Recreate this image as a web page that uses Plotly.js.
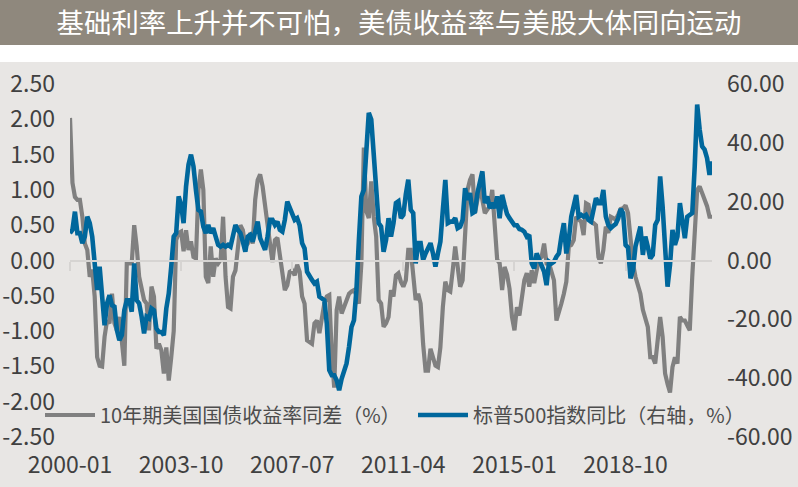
<!DOCTYPE html>
<html>
<head>
<meta charset="utf-8">
<script src="https://cdn.plot.ly/plotly-3.0.1.min.js"></script>
<style>
html,body{margin:0;padding:0;background:#fff;}
#chart{width:798px;height:487px;background:linear-gradient(to bottom,#8f887d 0px,#8f887d 45px,#ffffff 45px,#ffffff 62px,#e8e6e4 62px,#e8e6e4 487px);}
</style>
</head>
<body>
<div id="chart"></div>
<script>
// Month categories 2000-01 .. 2021-09
const startYear = 2000, monthCount = 261;
const months = [];
for (let i = 0; i < monthCount; i++) {
  const y = startYear + Math.floor(i / 12), m = (i % 12) + 1;
  months.push(y + '-' + (m < 10 ? '0' + m : m));
}

// 10年期美国国债收益率同差（%）
const ust10yYoY = [
  2.02, 1.1, 0.9, 0.86, 0.86, 0.62, 0.24, 0.15, -0.23, -0.13,
  -0.51, -1.37, -1.49, -1.5, -1.08, -0.85, -0.89, -0.47, -0.89, -0.99,
  -0.8, -1.18, -1.49, -0.04, -0.04, -0.04, 0.5, 0.2, -0.23, -0.42,
  -0.56, -0.61, -0.99, -0.37, -0.51, -1.25, -1.18, -1.27, -1.6, -1.23,
  -1.7, -1.37, -1.0, 0.29, 0.39, 0.41, 0.13, 0.43, 0.15, 0.27,
  0.05, 0.03, 1.0, 1.29, 1.0, -0.23, -0.32, 0.2, -0.23, 0.03,
  -0.04, 0.01, 0.62, -0.23, -0.66, -0.68, -0.23, -0.14, 0.2, 0.5,
  0.43, 0.2, 0.24, 0.39, 0.24, 0.86, 1.14, 1.22, 1.05, 0.74,
  0.53, 0.24, -0.02, 0.29, 0.32, 0.1, -0.18, -0.42, -0.35, -0.16,
  -0.14, -0.21, -0.06, -0.16, -0.51, -0.61, -1.13, -1.15, -1.18, -0.89,
  -0.85, -1.03, -0.8, -0.61, -0.51, -0.49, -1.32, -1.8, -0.7, -0.51,
  -0.75, -0.66, -0.59, -0.47, -0.44, -0.42, -0.49, -0.61, -0.04, 1.6,
  0.7, 0.6, 1.12, 0.62, 0.34, -0.56, -0.61, -0.94, -0.89, -0.8,
  -0.42, -0.51, -0.21, -0.18, -0.3, -0.37, -0.28, 0.15, 0.15, -0.23,
  -0.56, -0.47, -0.61, -1.18, -1.56, -1.56, -1.25, -1.37, -1.49, -1.51,
  -1.23, -0.66, -0.3, -0.42, -0.44, -0.14, 0.2, -0.09, -0.37, -0.28,
  0.53, 1.0, 1.14, 1.22, 0.67, 0.86, 1.05, 0.86, 0.67, 0.72,
  0.77, 1.0, 0.53, 0.01, -0.04, -0.42, -0.09, -0.2, -0.4, -0.8,
  -0.99, -0.66, -0.78, -0.51, -0.28, -0.18, -0.37, -0.14, -0.32, -0.14,
  0.03, 0.05, 0.24, -0.04, -0.04, -0.16, -0.28, -0.85, -0.75, -0.61,
  -0.47, -0.3, 0.2, 0.22, 0.29, 0.62, 0.58, 0.55, 0.36, 0.81,
  0.79, 0.55, 0.53, 0.5, 0.05, -0.04, 0.15, 0.48, 0.39, 0.62,
  0.6, 0.58, 0.65, 0.73, 0.74, 0.78, 0.67, 0.3, -0.04, -0.23,
  -0.37, -0.47, -0.7, -0.85, -0.94, -1.37, -1.37, -1.46, -1.18, -0.8,
  -1.08, -1.6, -1.75, -1.87, -1.51, -1.37, -1.46, -0.8, -0.85, -0.85,
  -0.92, -0.99, -0.23, 0.39, 1.0, 1.05, 0.95, 0.86, 0.77, 0.62,
  0.62
];

// 标普500指数同比（右轴，%）
const spxYoY = [
  9.3, 10.4, 16.6, 9.3, 9.3, 5.9, 8.1, 14.9, 12.7, 8.1,
  -1, -10, -2.1, -11.2, -22, -14.6, -11.8, -15.2, -15.7, -23.7,
  -27.1, -25.4, -16.9, -13.5, -13.5, -17.4, -1, -13.5, -14.6, -19.1,
  -24.8, -19.1, -19.7, -16.3, -16.9, -23.1, -24.3, -24.3, -25.4, -16.3,
  -11.2, -2.1, 8.1, 9.3, 21.8, 18.9, 12.7, 25.2, 32.6, 36,
  32, 24, 17.2, 16.6, 11.5, 9.3, 12.1, 9.3, 11, 8.1,
  5.3, 4.7, 5.3, 4.7, 5.3, 4.7, 8.1, 12.1, 10.4, 9.3,
  6.4, 3, 8.1, 8.7, 6.4, 9.3, 13.2, 7.6, 5.9, 3.6,
  8.1, 13.8, 13.8, 12.1, 13.2, 10.4, 9.8, 13.8, 20, 17.8,
  15, 13.8, 14.4, 12, 5.9, 4.1, -3.8, -5.5, -6.6, -7.8,
  -7.2, -12.3, -12.9, -13.5, -21.4, -37.3, -39, -39, -40.7, -44.1,
  -40.2, -37.9, -35, -29.4, -22.6, -20.3, -10.1, 7, 21.8, 24,
  38.8, 50.2, 47.9, 36.5, 21.8, 12.7, 11.5, 3, 7, 14.4,
  8.1, 12.7, 19.5, 20.1, 14.4, 15.5, 22.5, 27.5, 17.2, 16.1,
  -1, 5.9, 5.9, 0.2, 2.4, 4.1, 5.9, 2.4, -2.1, 2.4,
  6.4, 17.2, 27.4, 12.7, 13.2, 13.2, 14.4, 11, 11.5, 13.8,
  24.6, 20.6, 22.9, 16.1, 16.6, 22.9, 26.3, 30.3, 19.5, 21.8,
  17.8, 19.5, 17.8, 21.8, 14.4, 22.3, 18.9, 15.8, 14.4, 13,
  12, 12, 10.7, 10.4, 9.8, 8.1, 8.7, -1, -2.7, 2.4,
  0.2, -1, -3.8, -8.4, -0.4, -1, -0.4, 1.3, 2.4, 8.1,
  12.7, 2.4, 7, 14.9, 19.5, 22.3, 14.9, 15.5, 14.9, 15.5,
  13.8, 13.2, 17.2, 21.2, 19.5, 19.5, 24, 14.9, 12.1, 11,
  11.8, 12.4, 14.3, 17.5, 16.1, 5.3, 4.4, -6.1, -3.3, 4.7,
  8.1, 11.5, 1.9, 8.1, 4.7, 0.7, 1.9, 12.1, 13.8, 28.6,
  18.3, 5.9, -8.9, -1.5, 10.4, 5.3, 8.1, 19.5, 13.2, 7.6,
  14.9, 15.5, 16.1, 32, 53, 44.5, 38.8, 37.7, 34.8, 29.1,
  33.7
];

const xTickLabels = ['2000-01', '2003-10', '2007-07', '2011-04', '2015-01', '2018-10'];
const leftTicks = [-2.5, -2, -1.5, -1, -0.5, 0, 0.5, 1, 1.5, 2, 2.5];
const leftTickText = ['-2.50', '-2.00', '-1.50', '-1.00', '-0.50', '0.00', '0.50', '1.00', '1.50', '2.00', '2.50'];
const rightTicks = [-60, -40, -20, 0, 20, 40, 60];
const rightTickText = ['-60.00', '-40.00', '-20.00', '0.00', '20.00', '40.00', '60.00'];

const FONT = '"Noto Sans CJK SC", "Noto Sans", sans-serif';
const TICKCOL = '#404040';
const AXISLINE = '#d6d4d2';

const traces = [
  {
    x: months, y: ust10yYoY, type: 'scatter', mode: 'lines',
    name: '10年期美国国债收益率同差（%）',
    line: {color: '#808080', width: 4.2},
    xaxis: 'x', yaxis: 'y', legend: 'legend', hoverinfo: 'skip'
  },
  {
    x: months, y: spxYoY, type: 'scatter', mode: 'lines',
    name: '标普500指数同比（右轴，%）',
    line: {color: '#00679c', width: 4.6},
    xaxis: 'x2', yaxis: 'y2', legend: 'legend2', hoverinfo: 'skip'
  }
];

const layout = {
  width: 798, height: 487,
  paper_bgcolor: 'rgba(0,0,0,0)', plot_bgcolor: 'rgba(0,0,0,0)',
  margin: {l: 70, r: 86, t: 84, b: 50, pad: 0},
  font: {family: FONT, color: TICKCOL},
  title: {
    text: '基础利率上升并不可怕，美债收益率与美股大体同向运动',
    font: {family: FONT, size: 27.4, color: '#ffffff'},
    x: 0.5, xanchor: 'center', xref: 'container',
    y: 1 - 23 / 487, yanchor: 'middle', yref: 'container'
  },
  // axis line drawn at the zero level, with short ticks below it
  xaxis: {
    type: 'category', range: [0, 260], anchor: 'free', position: 0.5, side: 'bottom',
    showline: true, linecolor: AXISLINE, linewidth: 2,
    ticks: 'outside', ticklen: 9, tickwidth: 2, tickcolor: AXISLINE,
    tickmode: 'array', tickvals: xTickLabels, showticklabels: false,
    showgrid: false, zeroline: false
  },
  // tick labels at the bottom
  xaxis2: {
    type: 'category', range: [0, 260], overlaying: 'x', anchor: 'y2', side: 'bottom',
    tickmode: 'array', tickvals: xTickLabels, ticktext: xTickLabels,
    showgrid: false, zeroline: false, showline: false, ticks: '',
    ticklabelstandoff: 12,
    tickfont: {family: FONT, size: 23, color: TICKCOL}
  },
  yaxis: {
    range: [-2.5, 2.5], anchor: 'x', tickmode: 'array', tickvals: leftTicks, ticktext: leftTickText,
    showgrid: false, zeroline: false, showline: false, ticks: '',
    ticklabelstandoff: 14,
    tickfont: {family: FONT, size: 23, color: TICKCOL}
  },
  yaxis2: {
    range: [-60, 60], overlaying: 'y', side: 'right', anchor: 'x2',
    tickmode: 'array', tickvals: rightTicks, ticktext: rightTickText,
    showgrid: false, zeroline: false, showline: false, ticks: '',
    ticklabelstandoff: 14,
    tickfont: {family: FONT, size: 23, color: TICKCOL}
  },
  legend: {
    x: (40 - 70) / 642, y: (437 - 415) / 353, xanchor: 'left', yanchor: 'middle',
    bgcolor: 'rgba(0,0,0,0)', borderwidth: 0, itemwidth: 50,
    font: {family: FONT, size: 20, color: '#4d4d4d'}
  },
  legend2: {
    x: (413 - 70) / 642, y: (437 - 415) / 353, xanchor: 'left', yanchor: 'middle',
    bgcolor: 'rgba(0,0,0,0)', borderwidth: 0, itemwidth: 50,
    font: {family: FONT, size: 20, color: '#4d4d4d'}
  },
  showlegend: true
};

Plotly.newPlot('chart', traces, layout, {displayModeBar: false, staticPlot: true});
</script>
</body>
</html>
